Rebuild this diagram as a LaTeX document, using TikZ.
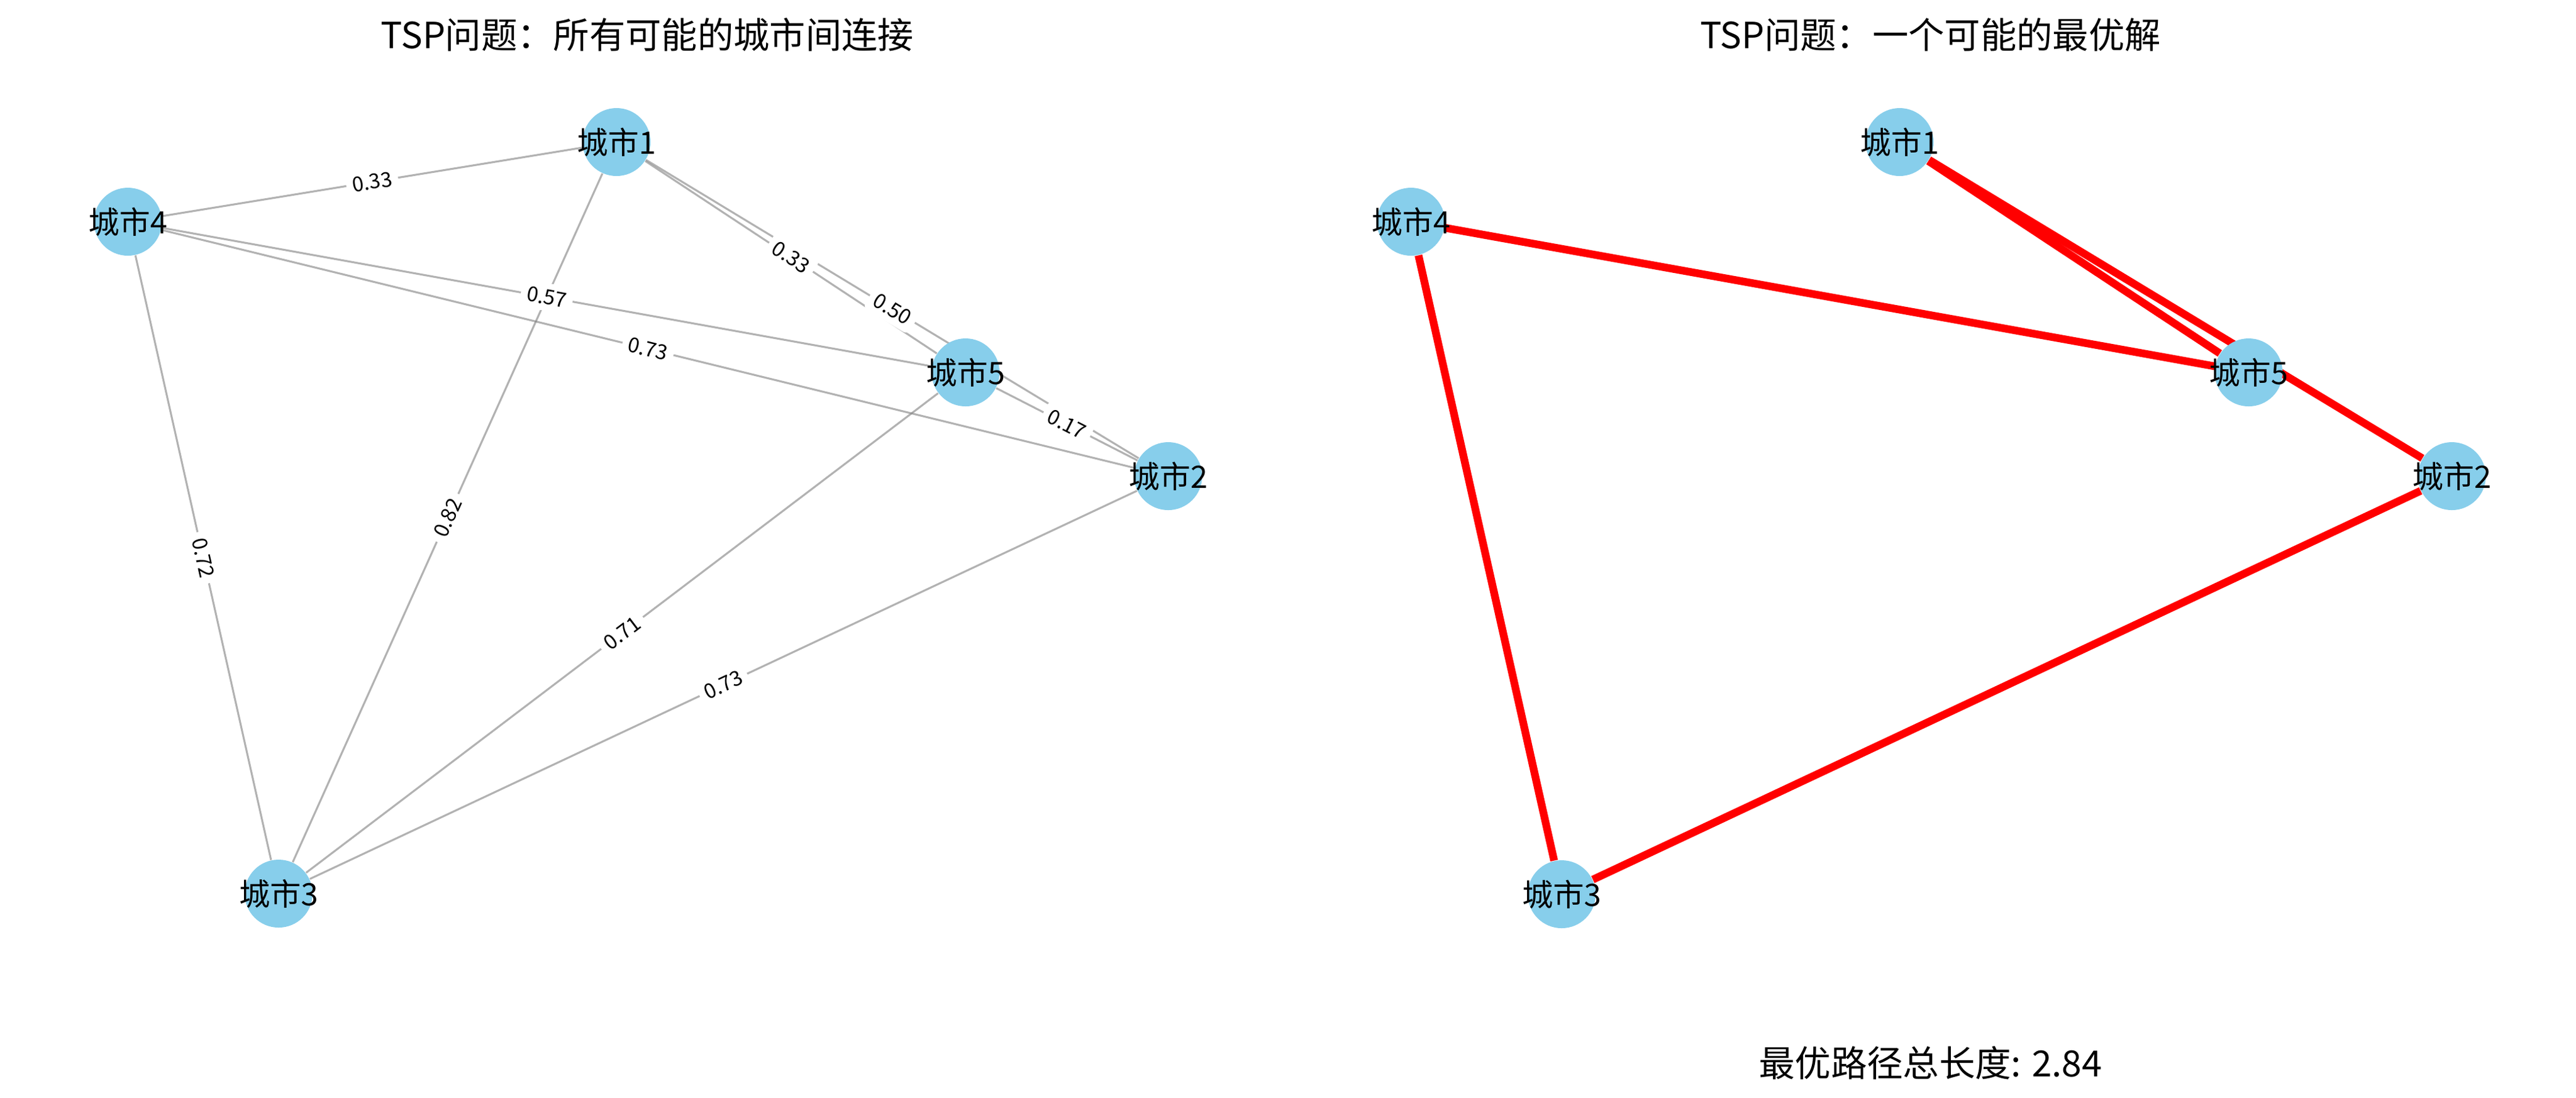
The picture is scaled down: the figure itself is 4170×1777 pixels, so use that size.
\documentclass[tikz,border=0pt]{standalone}
\usepackage{fontspec}
\setmainfont{Noto Sans CJK SC}
\usetikzlibrary{backgrounds}
\definecolor{skyblue}{HTML}{87CEEB}
\begin{document}
\begin{tikzpicture}[x=0.24pt,y=-0.24pt,
  city/.style={circle, fill=skyblue, minimum size=26.4pt, inner sep=0pt,
    label={[citytxt]center:#1}},
  citytxt/.style={font=\fontsize{12}{12}\selectfont, text=black, inner sep=0pt},
  gedge/.style={draw=gray, draw opacity=0.6, line width=0.75pt},
  redge/.style={draw=red, line width=3pt},
  elab/.style={sloped, fill=white, rounded corners=2pt, inner sep=2.4pt,
    font=\fontsize{8}{8}\selectfont, text=black},
  ttl/.style={font=\fontsize{14}{14}\selectfont, text=black}]
\useasboundingbox (0,0) rectangle (4170,1777);

% ---------- left panel ----------
\node[ttl] (t1) at (1048,56) {TSP问题：所有可能的城市间连接};
\node[city=城市1] (a1) at (998,230) {};
\node[city=城市4] (a4) at (207,359) {};
\node[city=城市5] (a5) at (1563,603) {};
\node[city=城市2] (a2) at (1891,771) {};
\node[city=城市3] (a3) at (451,1447) {};
\begin{scope}[on background layer]
\fill[white] (0,0) rectangle (4170,1777);
\draw[gedge] (a1) -- (a4);
\draw[gedge] (a1) -- (a5);
\draw[gedge] (a1) -- (a2);
\draw[gedge] (a1) -- (a3);
\draw[gedge] (a4) -- (a5);
\draw[gedge] (a4) -- (a2);
\draw[gedge] (a4) -- (a3);
\draw[gedge] (a5) -- (a3);
\draw[gedge] (a5) -- (a2);
\draw[gedge] (a2) -- (a3);
\end{scope}
\path (a4) -- node[elab]{0.33} (a1);
\path (a1) -- node[elab]{0.33} (a5);
\path (a1) -- node[elab]{0.50} (a2);
\path (a3) -- node[elab]{0.82} (a1);
\path (a4) -- node[elab]{0.57} (a5);
\path (a4) -- node[elab]{0.73} (a2);
\path (a4) -- node[elab]{0.72} (a3);
\path (a3) -- node[elab]{0.71} (a5);
\path (a5) -- node[elab]{0.17} (a2);
\path (a3) -- node[elab]{0.73} (a2);

% ---------- right panel ----------
\node[ttl] (t2) at (3125,56) {TSP问题：一个可能的最优解};
\node[city=城市1] (b1) at (3075,230) {};
\node[city=城市4] (b4) at (2284,359) {};
\node[city=城市5] (b5) at (3640,603) {};
\node[city=城市2] (b2) at (3969,771) {};
\node[city=城市3] (b3) at (2528,1448) {};
\begin{scope}[on background layer]
\draw[redge] (b1) -- (b5);
\draw[redge] (b5) -- (b4);
\draw[redge] (b4) -- (b3);
\draw[redge] (b3) -- (b2);
\draw[redge] (b2) -- (b1);
\end{scope}
\node[ttl] (tot) at (3125,1721) {最优路径总长度: 2.84};
\end{tikzpicture}
\end{document}
